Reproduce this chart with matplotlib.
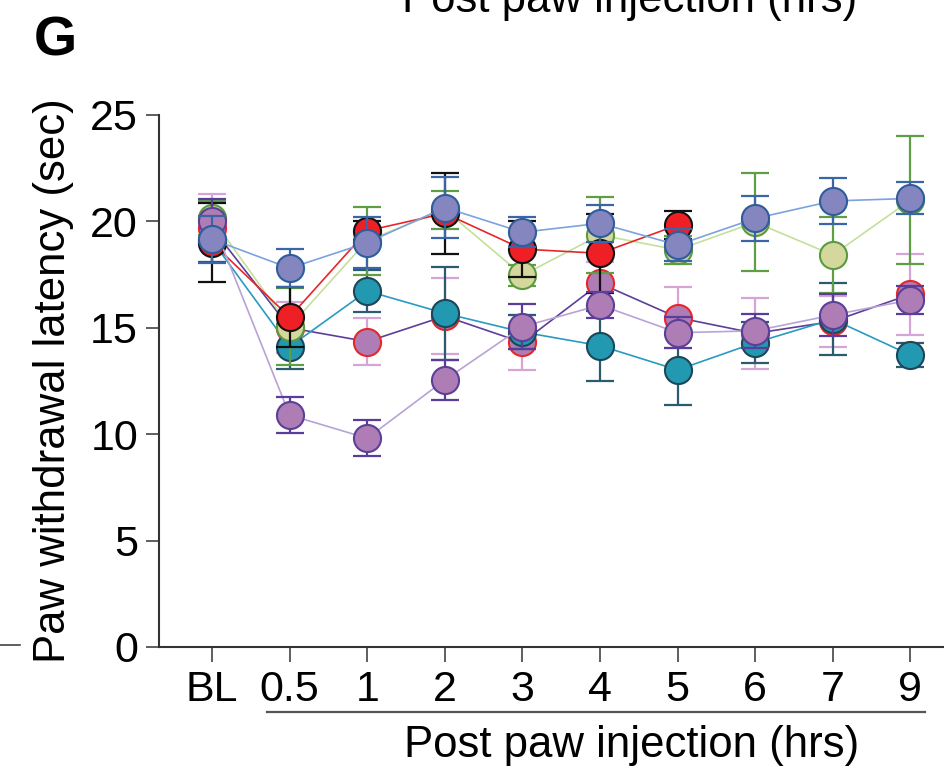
import numpy as np
import matplotlib
matplotlib.use("Agg")
import matplotlib.pyplot as plt

plt.rcParams['font.family'] = ['Liberation Sans', 'DejaVu Sans']

categories = ["BL", "0.5", "1", "2", "3", "4", "5", "6", "7", "9"]

red_mean = [19.0, 15.5, 19.56, 20.38, 18.7, 18.5, 19.83, np.nan, np.nan, np.nan]
red_sem = [1.85, 1.4, 0.45, 1.9, 1.3, 1.85, 0.66, np.nan, np.nan, np.nan]

olive_mean = [20.15, 15.05, 19.1, 20.55, 17.47, 19.36, 18.66, 19.96, 18.42, 21.0]
olive_sem = [0.8, 1.8, 1.6, 0.9, 0.5, 1.8, 0.65, 2.3, 1.8, 3.0]

teal_mean = [19.1, 14.11, 16.73, 15.68, 14.8, 14.16, 13.02, 14.3, 15.4, 13.72]
teal_sem = [1.0, 1.05, 1.0, 2.2, 0.8, 1.65, 1.65, 0.95, 1.7, 0.55]

lav_mean = [19.16, 17.8, 19.0, 20.65, 19.49, 19.91, 18.89, 20.14, 20.96, 21.08]
lav_sem = [1.1, 0.9, 1.2, 1.45, 0.7, 0.86, 0.75, 1.05, 1.07, 0.75]

pr_mean = [19.7, 15.0, 14.35, 15.55, 14.31, 17.09, 15.48, 14.74, 15.3, 16.57]
pr_sem = [1.6, 1.2, 1.1, 1.8, 1.3, 1.0, 1.45, 1.68, 1.2, 1.9]

pp_mean = [20.03, 10.9, 9.81, 12.55, 15.05, 16.07, 14.77, 14.86, 15.6, 16.31]
pp_sem = [1.0, 0.86, 0.85, 0.95, 1.05, 0.62, 0.73, 0.8, 1.0, 0.65]

# (mean, sem, line color, fill, edge, errbar color) in draw order bottom->top
series = [
    (pr_mean, pr_sem, "#5b3f98", "#ae7db5", "#e8262a", "#d6a5d6"),
    (teal_mean, teal_sem, "#2a9bc0", "#2299b0", "#1d4658", "#2c5a6e"),
    (olive_mean, olive_sem, "#c4e09a", "#d5d89c", "#5a9a40", "#5f9e47"),
    (red_mean, red_sem, "#e8262a", "#ee1f25", "#111111", "#111111"),
    (pp_mean, pp_sem, "#b8a3d6", "#ae7db5", "#5b3f98", "#5a3d9a"),
    (lav_mean, lav_sem, "#7ba3de", "#8585c0", "#2f5d9c", "#3a66a8"),
]

fig = plt.figure(figsize=(9.45, 7.7), dpi=100)
ax = fig.add_axes([159.5 / 945, 1 - 647 / 770, 1 - 159.5 / 945, (647 - 115) / 770])

x = np.arange(len(categories))
z = 3
for mean, sem, lc, fc, ec, erc in series:
    m = np.array(mean, dtype=float)
    s = np.array(sem, dtype=float)
    ax.plot(x, m, color=lc, lw=1.2, zorder=z)
    ax.errorbar(x, m, yerr=s, fmt="none", ecolor=erc, elinewidth=1.6,
                capsize=10, capthick=1.6, zorder=z + 0.1)
    ax.plot(x, m, linestyle="none", marker="o", ms=19.5, mfc=fc, mec=ec,
            mew=1.5, zorder=z + 0.2)
    z += 1

ax.set_xlim(-0.677, 9.446)
ax.set_ylim(0, 25)
ax.set_yticks([0, 5, 10, 15, 20, 25])
ax.set_xticks(x)
ax.set_xticklabels(categories)
for sp in ["top", "right"]:
    ax.spines[sp].set_visible(False)
for sp in ["left", "bottom"]:
    ax.spines[sp].set_linewidth(1.5)
    ax.spines[sp].set_color("#333333")
ax.tick_params(axis="y", length=9.4, width=1.1, color="#333333", labelsize=31, pad=6)
ax.tick_params(axis="x", length=10.8, width=1.1, color="#333333", labelsize=31, pad=6)

ax.set_ylabel("Paw withdrawal latency (sec)", fontsize=31.5, labelpad=12)

# underline and axis title
fig.add_artist(plt.Line2D([267 / 945, 925 / 945], [1 - 712 / 770, 1 - 712 / 770],
                          color="#555555", lw=1.6))
fig.text(632 / 945, 1 - 745 / 770, "Post paw injection (hrs)", fontsize=31.5,
         ha="center", va="center")
# top cropped title from panel above
fig.text(630 / 945, 1 - 12 / 770, "Post paw injection (hrs)", fontsize=31.5,
         ha="center", va="baseline")
# panel letter
fig.text(55 / 945, 1 - 42 / 770, "G", fontsize=40, fontweight="bold",
         ha="center", va="center")
# stray tick from neighboring panel
fig.add_artist(plt.Line2D([0, 20 / 945], [1 - 645 / 770, 1 - 645 / 770],
                          color="#333333", lw=1.1))

fig.savefig("out.png", dpi=100)
